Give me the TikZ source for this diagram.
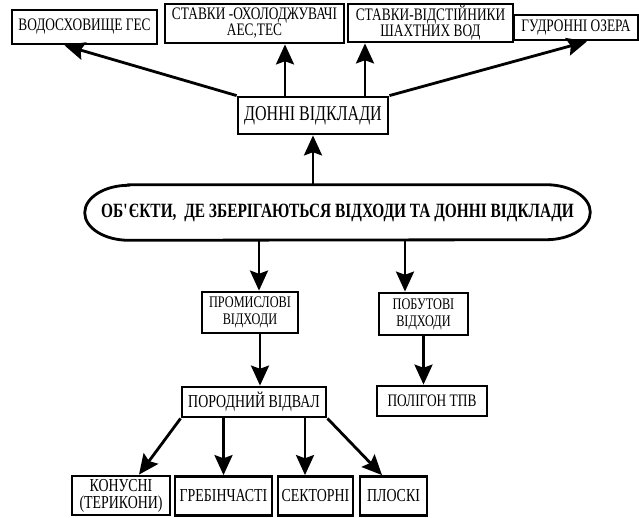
\documentclass[tikz,border=0pt]{standalone}
\usepackage{fontspec}
\setmainfont{Liberation Serif}[FakeStretch=0.76]
\usepackage{tikz}
\usetikzlibrary{positioning, arrows.meta}

\begin{document}
\begin{tikzpicture}[
    box/.style={draw, line width=2pt, inner sep=1pt, align=center, font=\fontsize{12.5}{11.4}\selectfont},
    small/.style={box, font=\fontsize{11.5}{12}\selectfont},
    low/.style={box, font=\fontsize{13}{12}\selectfont},
    arr/.style={-{Stealth[length=0.5cm, width=0.45cm, inset=0.08cm]}, line width=2pt},
]
\useasboundingbox (0,0) rectangle (15.975,12.925);

% Top row
\node[box, minimum width=3.625cm, minimum height=0.85cm] (vodo) at (2.1125,12.25) {ВОДОСХОВИЩЕ ГЕС};
\node[box, minimum width=4.475cm, minimum height=0.975cm] (ohol) at (6.3625,12.3375) {СТАВКИ -ОХОЛОДЖУВАЧІ\\АЕС,ТЕС};
\node[box, minimum width=4.125cm, minimum height=0.95cm] (vidst) at (10.7625,12.35) {СТАВКИ-ВІДСТІЙНИКИ\\ШАХТНИХ ВОД};
\node[box, minimum width=3.1cm, minimum height=0.625cm] (gudr) at (14.4,12.2375) {ГУДРОННІ ОЗЕРА};

% Bottom sediments
\node[box, font=\fontsize{15}{15}\selectfont, minimum width=3.75cm, minimum height=0.925cm] (donni) at (7.825,10.0375) {ДОННІ ВІДКЛАДИ};

% Main object
\node[font=\fontsize{14.4}{15}\selectfont\bfseries, minimum width=12.625cm, minimum height=1.375cm] (obj) at (8.4375,7.6125) {ОБ\textquotesingle ЄКТИ,\ \ ДЕ ЗБЕРІГАЮТЬСЯ ВІДХОДИ ТА ДОННІ ВІДКЛАДИ};
\draw[line width=2pt] ([xshift=1.1cm]obj.north west) -- ([xshift=-1.1cm]obj.north east)
    arc[start angle=90, end angle=-90, x radius=1.1cm, y radius=0.6875cm]
    -- ([xshift=1.1cm]obj.south west)
    arc[start angle=270, end angle=90, x radius=1.1cm, y radius=0.6875cm] -- cycle;

% Waste
\node[small, minimum width=2.4cm, minimum height=1.025cm] (prom) at (6.25,5.1125) {ПРОМИСЛОВІ\\ВІДХОДИ};
\node[small, minimum width=2.225cm, minimum height=1.05cm] (pobut) at (10.5875,5.075) {ПОБУТОВІ\\ВІДХОДИ};
\node[low, minimum width=3.6cm, minimum height=0.75cm] (porod) at (6.35,2.875) {ПОРОДНИЙ ВІДВАЛ};
\node[box, minimum width=2.75cm, minimum height=0.75cm] (polig) at (10.8,2.9) {ПОЛІГОН ТПВ};

% Dump types
\node[low, minimum width=2.45cm, minimum height=0.975cm] (konus) at (3.025,0.5375) {КОНУСНІ\\(ТЕРИКОНИ)};
\node[low, minimum width=2.425cm, minimum height=0.975cm] (greb) at (5.5875,0.525) {ГРЕБІНЧАСТІ};
\node[low, minimum width=1.875cm, minimum height=0.975cm] (sekt) at (7.8875,0.525) {СЕКТОРНІ};
\node[low, minimum width=1.675cm, minimum height=0.975cm] (plosk) at (9.8375,0.525) {ПЛОСКІ};

% Arrows
\draw[arr] (donni.north west) -- ([xshift=-0.5cm]vodo.south);
\draw[arr] ([xshift=-0.7cm]donni.north) -- ([xshift=-0.7cm]donni.north |- ohol.south);
\draw[arr] ([xshift=1.3cm]donni.north) -- ([xshift=1.3cm]donni.north |- vidst.south);
\draw[arr] (donni.north east) -- ([xshift=0.275cm]gudr.south);
\draw[arr] (obj.north -| donni.south) -- (donni.south);
\draw[arr] ([xshift=0.225cm]prom.north |- obj.south) -- ([xshift=0.225cm]prom.north);
\draw[arr] ([xshift=-0.4625cm]pobut.north |- obj.south) -- ([xshift=-0.4625cm]pobut.north);
\draw[arr] ([xshift=0.25cm]prom.south) -- ([xshift=0.25cm]prom.south |- porod.north);
\draw[arr] (pobut.south) -- (pobut.south |- polig.north);
\draw[arr] (porod.south west) -- ([xshift=0.45cm]konus.north);
\draw[arr] (greb.north |- porod.south) -- (greb.north);
\draw[arr] ([xshift=-0.2625cm]sekt.north |- porod.south) -- ([xshift=-0.2625cm]sekt.north);
\draw[arr] (porod.south east) -- ([xshift=-0.2875cm]plosk.north);

\end{tikzpicture}
\end{document}
